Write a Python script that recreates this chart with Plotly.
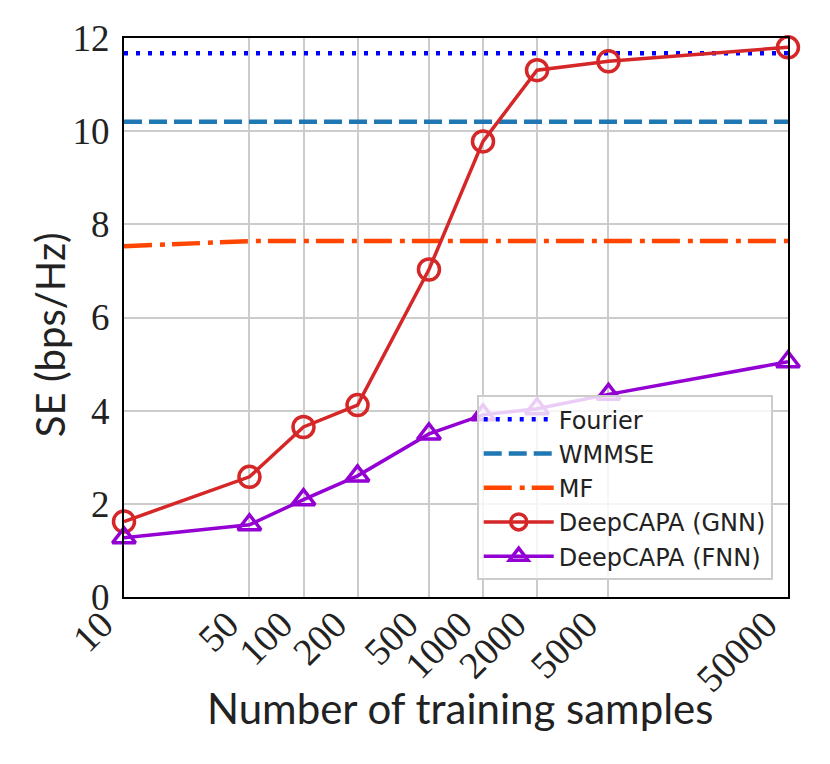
import plotly.graph_objects as go

samples = [10, 50, 100, 200, 500, 1000, 2000, 5000, 50000]
se_fourier = [11.67] * len(samples)
se_wmmse = [10.2] * len(samples)
se_mf = [7.53, 7.64, 7.64, 7.64, 7.64, 7.64, 7.64, 7.64, 7.64]
se_gnn = [1.62, 2.58, 3.65, 4.12, 7.03, 9.78, 11.31, 11.5, 11.8]
se_fnn = [1.27, 1.55, 2.09, 2.6, 3.5, 3.91, 4.04, 4.35, 5.05]

tick_labels = [str(s) for s in samples]

fig = go.Figure()
fig.add_trace(go.Scatter(x=samples, y=se_fourier, name="Fourier", mode="lines",
                         line=dict(color="#0000ff", width=4.5, dash="4px,8px")))
fig.add_trace(go.Scatter(x=samples, y=se_wmmse, name="WMMSE", mode="lines",
                         line=dict(color="#1f77b4", width=4.5, dash="18px,7px")))
fig.add_trace(go.Scatter(x=samples, y=se_mf, name="MF", mode="lines",
                         line=dict(color="#ff4500", width=4.5, dash="28px,8px,5px,7px")))
fig.add_trace(go.Scatter(x=samples, y=se_gnn, name="DeepCAPA (GNN)", mode="lines+markers",
                         line=dict(color="#d62728", width=3.5),
                         marker=dict(symbol="circle-open", size=21, line=dict(width=3.5, color="#d62728")),
                         cliponaxis=False))
fig.add_trace(go.Scatter(x=samples, y=se_fnn, name="DeepCAPA (FNN)", mode="lines+markers",
                         line=dict(color="#9400d3", width=3.5),
                         marker=dict(symbol="triangle-up-open", size=20, line=dict(width=3.5, color="#9400d3")),
                         cliponaxis=False))

fig.update_layout(
    width=830, height=764,
    margin=dict(l=116, r=50, t=30, b=175),
    paper_bgcolor="white", plot_bgcolor="white",
    showlegend=True,
    legend=dict(x=0.977, y=0.03, xanchor="right", yanchor="bottom",
                bgcolor="rgba(255,255,255,0.8)", bordercolor="#cccccc", borderwidth=2,
                font=dict(family="DejaVu Sans", size=24, color="#222222"),
                tracegroupgap=0, itemwidth=70),
    xaxis=dict(type="log", range=[1, 4.6992], automargin=False,
               tickvals=samples, ticktext=tick_labels, tickangle=-45,
               tickfont=dict(family="Liberation Serif", size=38, color="#222222"),
               ticklabelshift=-22, ticklabelstandoff=-12,
               showgrid=True, gridcolor="#cccccc", gridwidth=1.5,
               showline=True, linecolor="black", linewidth=2, mirror=True,
               ticks="", zeroline=False),
    yaxis=dict(range=[0, 12], dtick=2, automargin=False,
               tickfont=dict(family="Liberation Serif", size=37, color="#222222"),
               ticklabelstandoff=5,
               showgrid=True, gridcolor="#cccccc", gridwidth=1.5,
               showline=True, linecolor="black", linewidth=2, mirror=True,
               ticks="", zeroline=False),
    annotations=[
        dict(text="Number of training samples", xref="paper", yref="paper",
             x=0.506, y=-0.199, xanchor="center", yanchor="middle", showarrow=False,
             font=dict(family="Lato", size=42, color="#222222")),
        dict(text="SE (bps/Hz)", xref="paper", yref="paper", textangle=-90,
             x=-0.111, y=0.469, xanchor="center", yanchor="middle", showarrow=False,
             font=dict(family="Lato", size=40, color="#222222")),
    ],
)

fig.write_html("out.html")
